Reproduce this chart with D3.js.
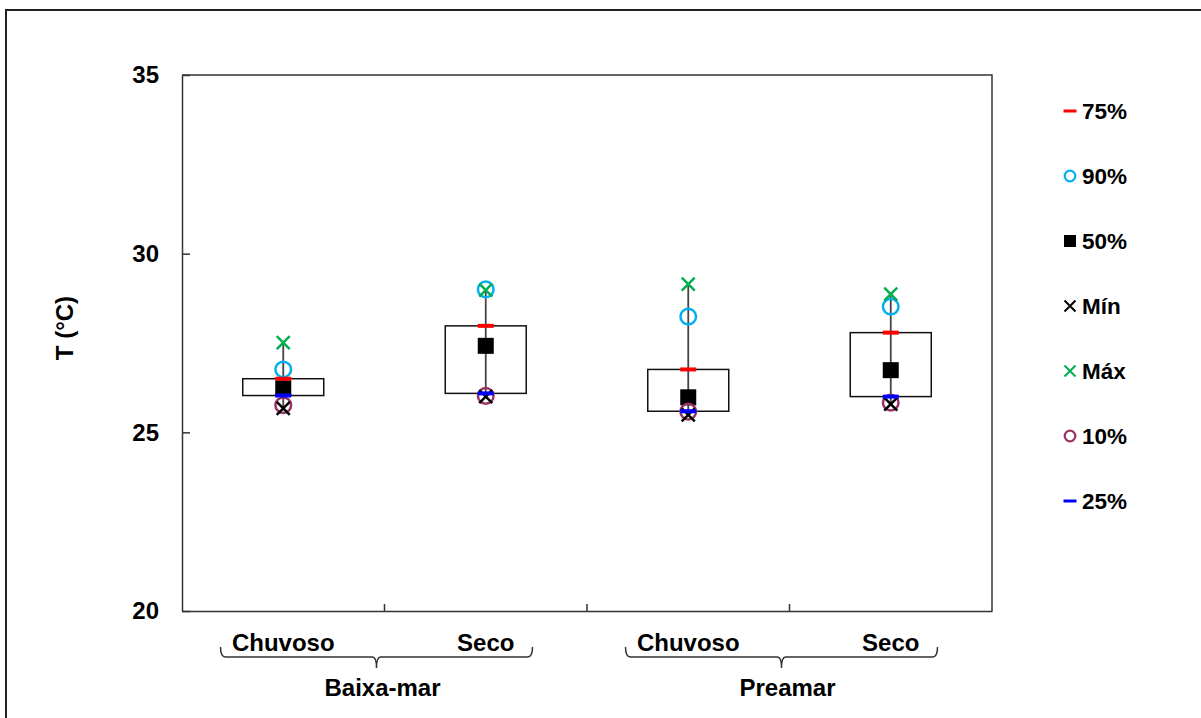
<!DOCTYPE html>
<html>
<head>
<meta charset="utf-8">
<script src="https://cdn.jsdelivr.net/npm/d3@7"></script>
<style>
	body { margin: 0; background: white; }
	text { font-family: "Liberation Sans", Arial, sans-serif; font-weight: bold; fill: #000; }
</style>
</head>
<body>
<div id="root"></div>
<script>
//categories and groups
const categories = ["Baixa-mar Chuvoso", "Baixa-mar Seco", "Preamar Chuvoso", "Preamar Seco"];
const catLabels = ["Chuvoso", "Seco", "Chuvoso", "Seco"];
const groups = ["Baixa-mar", "Preamar"];

//statistics, one value per category
const p75 = [26.50, 27.98, 26.76, 27.79];
const p90 = [26.76, 29.00, 28.24, 28.52];
const p50 = [26.23, 27.42, 25.98, 26.74];
const vMin = [25.67, 26.00, 25.49, 25.79];
const vMax = [27.51, 28.98, 29.15, 28.87];
const p10 = [25.76, 26.02, 25.58, 25.83];
const p25 = [26.03, 26.09, 25.59, 26.00];

const yTicks = [20, 25, 30, 35];

//dimensions
const width = 1201;
const height = 718;
const plotLeft = 182, plotRight = 992, plotTop = 75, plotBottom = 611;

const svg = d3.select("#root")
	.append("svg")
	.attr("width", width)
	.attr("height", height);

//outer frame
svg.append("rect")
	.attr("x", 6).attr("y", 10)
	.attr("width", 1220).attr("height", 740)
	.attr("fill", "none")
	.attr("stroke", "#222")
	.attr("stroke-width", 2);

const x = d3.scaleBand().domain(categories).range([plotLeft, plotRight]);
const y = d3.scaleLinear().domain([20, 35]).range([plotBottom, plotTop]);
const cx = (i) => x(categories[i]) + x.bandwidth() / 2;

//plot area border (top and right)
svg.append("path")
	.attr("d", `M${plotLeft},${plotTop}H${plotRight}V${plotBottom}`)
	.attr("fill", "none")
	.attr("stroke", "#333")
	.attr("stroke-width", 1.5);

//y axis, ticks pointing inward
svg.append("g")
	.attr("transform", `translate(${plotLeft},0)`)
	.call(d3.axisLeft(y).tickValues(yTicks).tickSizeInner(-8).tickSizeOuter(0).tickPadding(23))
	.call(g => g.selectAll("text").style("font-size", "24px").attr("font-family", null))
	.call(g => g.selectAll("line, path").attr("stroke", "#333").attr("stroke-width", 1.5));

//x axis with category labels
svg.append("g")
	.attr("transform", `translate(0,${plotBottom})`)
	.call(d3.axisBottom(x).tickFormat((d, i) => catLabels[i]).tickSize(0).tickPadding(23))
	.call(g => g.selectAll("text").style("font-size", "24px").attr("font-family", null))
	.call(g => g.select("path").attr("stroke", "#333").attr("stroke-width", 1.5));

//ticks between categories
svg.selectAll(".sep")
	.data(d3.range(1, categories.length))
	.enter()
	.append("line")
	.attr("x1", i => plotLeft + i * x.step())
	.attr("x2", i => plotLeft + i * x.step())
	.attr("y1", plotBottom)
	.attr("y2", plotBottom - 7)
	.attr("stroke", "#333")
	.attr("stroke-width", 1.5);

//group brackets and labels
groups.forEach(function(name, gi){
	const mid = plotLeft + (2 * gi + 1) * x.step();
	const c = mid - 8;
	const a = c - 156, b = c + 156;
	const yl = 657;
	svg.append("path")
		.attr("d", `M${a},${yl - 10} Q${a},${yl} ${a + 5},${yl} H${c - 4} Q${c},${yl} ${c},${yl + 11} Q${c},${yl} ${c + 4},${yl} H${b - 5} Q${b},${yl} ${b},${yl - 10}`)
		.attr("fill", "none")
		.attr("stroke", "#333")
		.attr("stroke-width", 1.5);
	svg.append("text")
		.attr("x", mid - 2)
		.attr("y", 696)
		.attr("text-anchor", "middle")
		.style("font-size", "24px")
		.text(name);
});

//y axis title
svg.append("text")
	.attr("transform", "translate(73, 328) rotate(-90)")
	.attr("text-anchor", "middle")
	.style("font-size", "24px")
	.text("T (°C)");

const idx = d3.range(categories.length);
const boxW = 81;

//boxes 25%-75%
svg.selectAll(".box")
	.data(idx)
	.enter()
	.append("rect")
	.attr("x", i => cx(i) - boxW / 2)
	.attr("y", i => y(p75[i]))
	.attr("width", boxW)
	.attr("height", i => y(p25[i]) - y(p75[i]))
	.attr("fill", "white")
	.attr("stroke", "#111")
	.attr("stroke-width", 1.5);

//whiskers min-max
svg.selectAll(".whisker")
	.data(idx)
	.enter()
	.append("line")
	.attr("x1", cx).attr("x2", cx)
	.attr("y1", i => y(vMin[i]))
	.attr("y2", i => y(vMax[i]))
	.attr("stroke", "#444")
	.attr("stroke-width", 1.8);

//marker drawing helpers
function square(g, px, py, s){
	g.append("rect").attr("x", px - s / 2).attr("y", py - s / 2)
		.attr("width", s).attr("height", s).attr("fill", "#000");
}
function circle(g, px, py, r, color){
	g.append("circle").attr("cx", px).attr("cy", py).attr("r", r)
		.attr("fill", "none").attr("stroke", color).attr("stroke-width", 2.5);
}
function cross(g, px, py, s, color){
	const h = s / 2;
	return g.append("path")
		.attr("d", `M${px - h},${py - h}L${px + h},${py + h}M${px - h},${py + h}L${px + h},${py - h}`)
		.attr("stroke", color).attr("stroke-width", 2.5).attr("fill", "none");
}
function dash(g, px, py, w, color){
	g.append("line").attr("x1", px - w / 2).attr("x2", px + w / 2)
		.attr("y1", py).attr("y2", py)
		.attr("stroke", color).attr("stroke-width", 4);
}

const marks = svg.append("g");
idx.forEach(function(i){
	const px = cx(i);
	square(marks, px, y(p50[i]), 16);
	circle(marks, px, y(p90[i]), 7.8, "#00b0f0");
	circle(marks, px, y(p10[i]), 7.8, "#993366");
	cross(marks, px, y(vMin[i]), 13, "#000");
	cross(marks, px, y(vMax[i]), 13, "#00b050");
	dash(marks, px, y(p75[i]), 16, "#ff0000");
	dash(marks, px, y(p25[i]), 16, "#0000ff");
});

//legend
const legendItems = [
	{label: "75%", type: "dash", color: "#ff0000"},
	{label: "90%", type: "circle", color: "#00b0f0"},
	{label: "50%", type: "square", color: "#000"},
	{label: "Mín", type: "cross", color: "#000"},
	{label: "Máx", type: "cross", color: "#00b050"},
	{label: "10%", type: "circle", color: "#993366"},
	{label: "25%", type: "dash", color: "#0000ff"}
];
const legend = svg.append("g");
legendItems.forEach(function(d, i){
	const ly = 111 + i * 65;
	const lx = 1070;
	if(d.type === "dash"){
		legend.append("line").attr("x1", lx - 6.5).attr("x2", lx + 6.5)
			.attr("y1", ly).attr("y2", ly)
			.attr("stroke", d.color).attr("stroke-width", 3);
	} else if(d.type === "circle"){
		legend.append("circle").attr("cx", lx).attr("cy", ly).attr("r", 5.3)
			.attr("fill", "none").attr("stroke", d.color).attr("stroke-width", 2.2);
	} else if(d.type === "square"){
		square(legend, lx, ly, 12);
	} else {
		cross(legend, lx, ly, 11, d.color).attr("stroke-width", 2);
	}
	legend.append("text")
		.attr("x", 1082)
		.attr("y", ly + 8)
		.style("font-size", "22.5px")
		.text(d.label);
});
</script>
</body>
</html>
